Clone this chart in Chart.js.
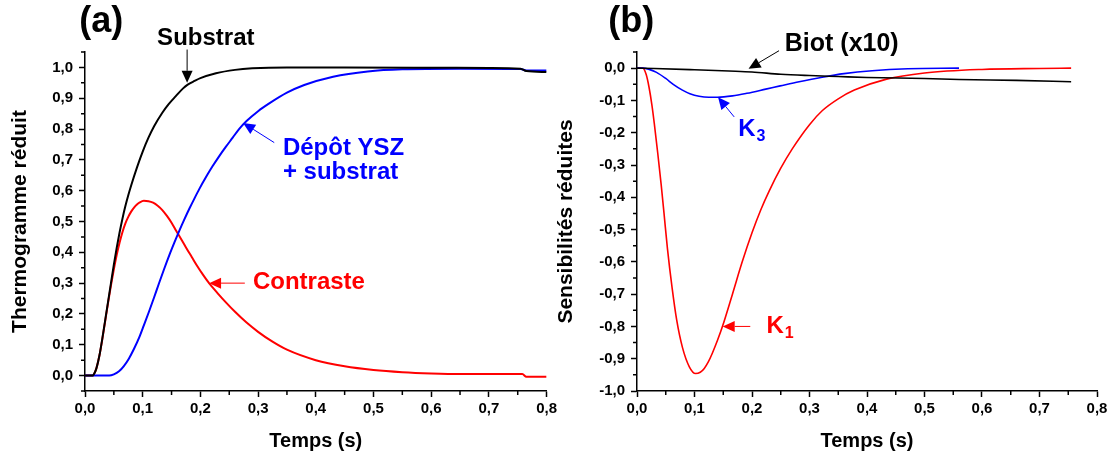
<!DOCTYPE html>
<html>
<head>
<meta charset="utf-8">
<script src="https://cdn.jsdelivr.net/npm/chart.js@4/dist/chart.umd.min.js"></script>
<style>
  body { margin: 0; background: #fff; }
  #wrap { position: relative; width: 1113px; height: 459px; }
  canvas { position: absolute; top: 0; }
</style>
</head>
<body>
<div id="wrap">
  <canvas id="chartA" width="560" height="459" style="left:0"></canvas>
  <canvas id="chartB" width="560" height="459" style="left:553px"></canvas>
</div>
<script>
// (a) thermogrammes
const substratT = [0, 0.013, 0.017, 0.02, 0.025, 0.03, 0.035, 0.04, 0.045, 0.05, 0.055, 0.06, 0.065, 0.07, 0.075, 0.08, 0.09, 0.1, 0.11, 0.12, 0.134, 0.145, 0.157, 0.17, 0.178, 0.19, 0.2, 0.227, 0.26, 0.29, 0.35, 0.45, 0.6, 0.7, 0.755, 0.765, 0.8];
const substrat = [0, 0, 0.01, 0.025, 0.065, 0.12, 0.18, 0.24, 0.3, 0.36, 0.415, 0.465, 0.51, 0.55, 0.585, 0.617, 0.675, 0.727, 0.772, 0.81, 0.853, 0.881, 0.906, 0.932, 0.944, 0.956, 0.965, 0.981, 0.992, 0.997, 1.0, 1.0, 0.999, 0.998, 0.996, 0.988, 0.985];

const depotT = [0, 0.042, 0.05, 0.059, 0.067, 0.076, 0.085, 0.094, 0.102, 0.111, 0.12, 0.128, 0.137, 0.146, 0.155, 0.163, 0.172, 0.181, 0.19, 0.198, 0.21, 0.221, 0.233, 0.244, 0.256, 0.267, 0.28, 0.3, 0.32, 0.35, 0.38, 0.43, 0.49, 0.55, 0.65, 0.755, 0.765, 0.8];
const depot = [0, 0, 0.004, 0.014, 0.03, 0.055, 0.087, 0.124, 0.163, 0.208, 0.255, 0.298, 0.345, 0.39, 0.432, 0.468, 0.506, 0.542, 0.576, 0.605, 0.645, 0.679, 0.713, 0.742, 0.772, 0.8, 0.826, 0.858, 0.884, 0.918, 0.943, 0.97, 0.987, 0.994, 0.996, 0.995, 0.99, 0.99];

const contrasteT = [0, 0.013, 0.017, 0.02, 0.025, 0.03, 0.035, 0.04, 0.045, 0.05, 0.055, 0.06, 0.065, 0.07, 0.075, 0.08, 0.085, 0.09, 0.095, 0.102, 0.11, 0.118, 0.126, 0.134, 0.142, 0.15, 0.158, 0.166, 0.175, 0.185, 0.195, 0.205, 0.215, 0.23, 0.245, 0.26, 0.28, 0.3, 0.325, 0.35, 0.4, 0.45, 0.5, 0.55, 0.6, 0.65, 0.7, 0.758, 0.765, 0.8];
const contraste = [0, 0, 0.01, 0.025, 0.065, 0.118, 0.177, 0.236, 0.293, 0.345, 0.392, 0.432, 0.466, 0.494, 0.515, 0.532, 0.545, 0.555, 0.562, 0.567, 0.566, 0.561, 0.551, 0.537, 0.518, 0.496, 0.47, 0.445, 0.416, 0.385, 0.354, 0.326, 0.3, 0.267, 0.236, 0.207, 0.172, 0.142, 0.11, 0.084, 0.05, 0.03, 0.018, 0.011, 0.007, 0.005, 0.005, 0.005, -0.004, -0.004];

// (b) sensibilites
const k1T = [0, 0.01, 0.016, 0.021, 0.026, 0.03, 0.036, 0.042, 0.047, 0.053, 0.061, 0.069, 0.079, 0.091, 0.102, 0.11, 0.117, 0.124, 0.131, 0.14, 0.149, 0.166, 0.183, 0.2, 0.215, 0.23, 0.25, 0.27, 0.3, 0.322, 0.35, 0.378, 0.434, 0.5, 0.6, 0.7, 0.755];
const k1 = [0, 0, -0.02, -0.06, -0.115, -0.17, -0.262, -0.36, -0.45, -0.56, -0.68, -0.78, -0.865, -0.925, -0.946, -0.942, -0.93, -0.91, -0.883, -0.843, -0.798, -0.7, -0.6, -0.51, -0.44, -0.38, -0.31, -0.25, -0.175, -0.132, -0.095, -0.068, -0.034, -0.015, -0.004, -0.001, 0];

const k3T = [0, 0.01, 0.02, 0.034, 0.05, 0.063, 0.079, 0.092, 0.108, 0.125, 0.14, 0.166, 0.191, 0.224, 0.249, 0.282, 0.322, 0.36, 0.409, 0.471, 0.56];
const k3 = [0, 0, -0.003, -0.013, -0.032, -0.05, -0.068, -0.079, -0.087, -0.09, -0.09, -0.086, -0.078, -0.065, -0.055, -0.042, -0.028, -0.017, -0.008, -0.002, 0];

const biotT = [0, 0.03, 0.1, 0.16, 0.2, 0.25, 0.3, 0.35, 0.4, 0.5, 0.56, 0.66, 0.755];
const biot = [0, -0.001, -0.005, -0.009, -0.012, -0.019, -0.023, -0.026, -0.029, -0.032, -0.035, -0.038, -0.042];

const FONT = '"Liberation Sans", Arial, sans-serif';

function pts(ts, vs) {
  return ts.map((t, i) => ({ x: t, y: vs[i] }));
}

function isMajor(v) {
  return Math.abs(v * 10 - Math.round(v * 10)) < 1e-6;
}

function fmt(v) {
  if (!isMajor(v)) return '';
  const r = Math.round(v * 10) / 10;
  return (r === 0 ? 0 : r).toFixed(1).replace('.', ',');
}

function line(label, ts, vs, color, w) {
  return {
    label: label,
    data: pts(ts, vs),
    borderColor: color,
    borderWidth: w,
    pointRadius: 0,
    fill: false,
    cubicInterpolationMode: 'monotone'
  };
}

function drawArrow(ctx, x1, y1, x2, y2, color) {
  const a = Math.atan2(y2 - y1, x2 - x1);
  const len = 12, half = 5.5;
  const bx = x2 - len * Math.cos(a), by = y2 - len * Math.sin(a);
  ctx.strokeStyle = color;
  ctx.fillStyle = color;
  ctx.lineWidth = 1;
  ctx.beginPath();
  ctx.moveTo(x1, y1);
  ctx.lineTo(bx, by);
  ctx.stroke();
  ctx.beginPath();
  ctx.moveTo(x2, y2);
  ctx.lineTo(bx + half * Math.sin(a), by - half * Math.cos(a));
  ctx.lineTo(bx - half * Math.sin(a), by + half * Math.cos(a));
  ctx.closePath();
  ctx.fill();
}

// minor ticks shorter than the labelled ones, and the text notes (in data units)
function notes(items) {
  return {
    id: 'notes',
    afterDraw(chart) {
      const ctx = chart.ctx;
      const sx = chart.scales.x, sy = chart.scales.y;
      const X = t => sx.getPixelForValue(t);
      const Y = v => sy.getPixelForValue(v);
      ctx.save();
      ctx.strokeStyle = '#000';
      ctx.lineWidth = 1.5;
      ctx.beginPath();
      sx.ticks.forEach(tk => {
        if (isMajor(tk.value)) return;
        const x = X(tk.value);
        ctx.moveTo(x, sy.bottom);
        ctx.lineTo(x, sy.bottom + 4);
      });
      sy.ticks.forEach(tk => {
        if (isMajor(tk.value)) return;
        const y = Y(tk.value);
        ctx.moveTo(sx.left, y);
        ctx.lineTo(sx.left - 4, y);
      });
      ctx.stroke();
      items.forEach(it => {
        if (it.arrow) {
          drawArrow(ctx, X(it.from[0]), Y(it.from[1]), X(it.to[0]), Y(it.to[1]), it.color);
          return;
        }
        ctx.fillStyle = it.color;
        ctx.font = 'bold ' + it.size + 'px ' + FONT;
        ctx.textBaseline = 'middle';
        ctx.textAlign = 'left';
        const x = X(it.t), y = Y(it.v);
        ctx.fillText(it.text, x, y);
        if (it.sub) {
          const w = ctx.measureText(it.text).width;
          ctx.font = 'bold ' + Math.round(it.size * 0.68) + 'px ' + FONT;
          ctx.fillText(it.sub, x + w + 1, y + it.size * 0.3);
        }
      });
      ctx.restore();
    }
  };
}

function makeChart(id, datasets, yMin, yMax, yTitle, yw, padR, titlePad, items) {
  const tickCol = c => isMajor(c.tick.value) ? '#000' : 'rgba(0,0,0,0)';
  return new Chart(document.getElementById(id), {
    type: 'line',
    data: { datasets: datasets },
    options: {
      responsive: false,
      animation: false,
      layout: { padding: { top: 52, right: padR, left: 0, bottom: 0 } },
      plugins: { legend: { display: false }, tooltip: { enabled: false } },
      scales: {
        x: {
          type: 'linear',
          min: 0, max: 0.8,
          afterFit: s => { s.height = 68; },
          grid: { drawOnChartArea: false, tickLength: 6, tickColor: tickCol, tickWidth: 1.5 },
          border: { color: '#000', width: 1.5 },
          ticks: { stepSize: 0.05, autoSkip: false, maxRotation: 0, padding: 3, color: '#000',
            font: { family: FONT, size: 15, weight: 'bold' }, callback: v => fmt(v) },
          title: { display: true, text: 'Temps (s)', color: '#000',
            font: { family: FONT, size: 20, weight: 'bold' }, padding: { top: 0, bottom: 6 } }
        },
        y: {
          min: yMin, max: yMax,
          afterFit: s => { s.width = yw; },
          grid: { drawOnChartArea: false, tickLength: 6, tickColor: tickCol, tickWidth: 1.5 },
          border: { color: '#000', width: 1.5 },
          ticks: { stepSize: 0.05, autoSkip: false, padding: 6, color: '#000',
            font: { family: FONT, size: 15, weight: 'bold' }, callback: v => fmt(v) },
          title: { display: true, text: yTitle, color: '#000',
            font: { family: FONT, size: 21, weight: 'bold' }, padding: { top: titlePad, bottom: 0 } }
        }
      }
    },
    plugins: [notes(items)]
  });
}

makeChart('chartA', [
  line('Substrat', substratT, substrat, '#000000', 2),
  line('Dépôt YSZ + substrat', depotT, depot, '#0000ff', 2),
  line('Contraste', contrasteT, contraste, '#ff0000', 2)
], -0.05, 1.05, 'Thermogramme réduit', 85, 13, 8, [
  { text: '(a)', t: -0.01, v: 1.147, size: 36, color: '#000' },
  { text: 'Substrat', t: 0.125, v: 1.095, size: 24, color: '#000' },
  { arrow: true, from: [0.177, 1.058], to: [0.177, 0.95], color: '#000' },
  { text: 'Dépôt YSZ', t: 0.343, v: 0.738, size: 24, color: '#0000ff' },
  { text: '+ substrat', t: 0.343, v: 0.66, size: 24, color: '#0000ff' },
  { arrow: true, from: [0.328, 0.756], to: [0.274, 0.82], color: '#0000ff' },
  { text: 'Contraste', t: 0.291, v: 0.302, size: 24, color: '#ff0000' },
  { arrow: true, from: [0.277, 0.3], to: [0.215, 0.3], color: '#ff0000' }
]);

makeChart('chartB', [
  line('Biot (x10)', biotT, biot, '#000000', 1.6),
  line('K3', k3T, k3, '#0000ff', 1.6),
  line('K1', k1T, k1, '#ff0000', 1.6)
], -1.0, 0.05, 'Sensibilités réduites', 84, 16, 1, [
  { text: '(b)', t: -0.05, v: 0.142, size: 36, color: '#000' },
  { text: 'Biot (x10)', t: 0.257, v: 0.074, size: 25, color: '#000' },
  { arrow: true, from: [0.247, 0.054], to: [0.194, -0.002], color: '#000' },
  { text: 'K', sub: '3', t: 0.176, v: -0.19, size: 24, color: '#0000ff' },
  { arrow: true, from: [0.169, -0.151], to: [0.141, -0.09], color: '#0000ff' },
  { text: 'K', sub: '1', t: 0.225, v: -0.8, size: 24, color: '#ff0000' },
  { arrow: true, from: [0.197, -0.8], to: [0.149, -0.8], color: '#ff0000' }
]);
</script>
</body>
</html>
